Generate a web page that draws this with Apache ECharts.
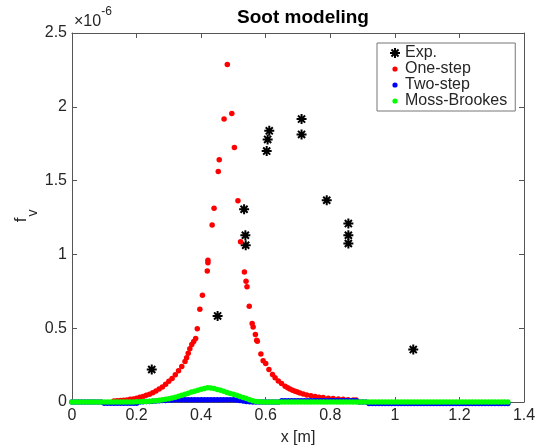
<!DOCTYPE html>
<html>
<head>
<meta charset="utf-8">
<script src="https://cdn.jsdelivr.net/npm/echarts@6/dist/echarts.min.js"></script>
<style>html,body{margin:0;padding:0;background:#fff}#c{width:544px;height:446px}</style>
</head>
<body>
<div id="c"></div>
<script>
// values of f_v are in units of 1e-6
var xTickLabels = ['0','0.2','0.4','0.6','0.8','1','1.2','1.4'];
var yTickLabels = ['0','0.5','1','1.5','2','2.5'];
var seriesNames = ['Exp.','One-step','Two-step','Moss-Brookes'];

var expData = [
  [0.247,0.220],[0.451,0.583],[0.533,1.306],[0.537,1.130],[0.538,1.062],
  [0.603,1.700],[0.606,1.779],[0.611,1.837],[0.711,1.917],[0.711,1.813],
  [0.789,1.367],[0.856,1.209],[0.856,1.130],[0.856,1.074],[1.057,0.355]
];

var oneStep = [
  [0.13,0.006],[0.14,0.008],[0.15,0.010],[0.16,0.012],[0.17,0.014],[0.18,0.018],[0.19,0.021],
  [0.20,0.026],[0.21,0.032],[0.22,0.038],[0.23,0.045],[0.24,0.053],[0.25,0.062],[0.26,0.074],
  [0.27,0.088],[0.28,0.102],[0.29,0.120],[0.30,0.140],[0.31,0.160],[0.32,0.185],[0.33,0.212],
  [0.34,0.240],[0.35,0.275],[0.355,0.300],[0.36,0.330],[0.365,0.360],[0.371,0.390],[0.377,0.410],
  [0.383,0.430],[0.388,0.497],[0.396,0.628],[0.404,0.723],[0.419,0.888],[0.421,0.943],[0.421,0.961],
  [0.434,1.200],[0.440,1.313],[0.453,1.562],[0.456,1.641],[0.471,1.917],[0.481,2.287],[0.495,1.955],
  [0.503,1.725],[0.514,1.363],[0.522,1.085],[0.534,0.881],[0.539,0.818],[0.542,0.780],[0.549,0.649],
  [0.558,0.531],[0.561,0.508],[0.568,0.457],[0.572,0.418],[0.574,0.411],[0.585,0.325],[0.592,0.280],
  [0.600,0.260],[0.610,0.220],[0.621,0.186],[0.629,0.165],[0.639,0.142],[0.649,0.125],[0.660,0.106],
  [0.668,0.097],[0.675,0.088],[0.683,0.080],[0.691,0.073],[0.698,0.067],[0.706,0.061],[0.716,0.054],
  [0.727,0.047],[0.740,0.042],[0.753,0.037],[0.765,0.033],[0.778,0.030],[0.794,0.026],[0.809,0.023],
  [0.825,0.020],[0.840,0.018],[0.855,0.016],[0.871,0.014],[0.880,0.013]
];

var xGrid = [
  0,0.01,0.02,0.03,0.04,0.05,0.06,0.07,0.08,0.09,
  0.10,0.11,0.12,0.13,0.14,0.15,0.16,0.17,0.18,0.19,
  0.20,0.21,0.22,0.23,0.24,0.25,0.26,0.27,0.28,0.29,
  0.30,0.31,0.32,0.33,0.34,0.35,0.36,0.37,0.38,0.39,
  0.40,0.41,0.42,0.43,0.44,0.45,0.46,0.47,0.48,0.49,
  0.50,0.51,0.52,0.53,0.54,0.55,0.56,0.57,0.58,0.59,
  0.60,0.61,0.62,0.63,0.64,0.65,0.66,0.67,0.68,0.69,
  0.70,0.71,0.72,0.73,0.74,0.75,0.76,0.77,0.78,0.79,
  0.80,0.81,0.82,0.83,0.84,0.85,0.86,0.87,0.88,0.89,
  0.90,0.91,0.92,0.93,0.94,0.95,0.96,0.97,0.98,0.99,
  1.00,1.01,1.02,1.03,1.04,1.05,1.06,1.07,1.08,1.09,
  1.10,1.11,1.12,1.13,1.14,1.15,1.16,1.17,1.18,1.19,
  1.20,1.21,1.22,1.23,1.24,1.25,1.26,1.27,1.28,1.29,
  1.30,1.31,1.32,1.33,1.34,1.35
];

var twoStep = [
  0,0,0,0,0,0,0,0,0,0,
  -0.008,-0.008,-0.008,-0.008,-0.008,-0.008,-0.008,-0.008,-0.008,-0.008,
  -0.008,0,0.002,0.003,0.004,0.005,0.007,0.008,0.010,0.011,
  0.013,0.014,0.015,0.016,0.016,0.016,0.016,0.016,0.016,0.016,
  0.016,0.016,0.016,0.016,0.016,0.016,0.016,0.016,0.016,0.016,
  0.016,0.014,0.010,0.006,0.003,0.001,0,0,0,0,
  0,0,0,0,0,0.008,0.008,0.008,0.008,0.008,
  0.008,0.008,0.008,0.008,0.008,0.008,0.008,0.008,0.008,0.008,
  0.008,0.008,0.008,0.008,0.008,0.008,0.008,0.008,0.008,0,
  0,0,-0.01,-0.01,-0.01,-0.01,-0.01,-0.01,-0.01,-0.01,
  -0.01,-0.01,-0.01,-0.01,-0.01,-0.01,-0.01,-0.01,-0.01,-0.01,
  -0.01,-0.01,-0.01,-0.01,-0.01,-0.01,-0.01,-0.01,-0.01,-0.01,
  -0.01,-0.01,-0.01,-0.01,-0.01,-0.01,-0.01,-0.01,-0.01,-0.01,
  -0.01,-0.01,-0.01,-0.01,-0.01,-0.01
];

var mossBrookes = [
  0,0,0,0,0,0,0,0,0,0,
  0,0,0,0,0,0,0,0,0,0,
  0.001,0.002,0.003,0.004,0.005,0.007,0.009,0.012,0.015,0.018,
  0.022,0.027,0.032,0.039,0.046,0.053,0.060,0.067,0.073,0.080,
  0.086,0.092,0.096,0.095,0.091,0.085,0.079,0.072,0.064,0.058,
  0.053,0.046,0.038,0.030,0.024,0.016,0.008,0.003,0.001,0,
  0,0,0,0,0,0,0,0,0,0,
  0,0,0,0,0,0,0,0,0,0,
  0,0,0,0,0,0,0,0,0,0,
  0,0,0,0,0,0,0,0,0,0,
  0,0,0,0,0,0,0,0,0,0,
  0,0,0,0,0,0,0,0,0,0,
  0,0,0,0,0,0,0,0,0,0,
  0,0,0,0,0,0
];

function pairs(xs, ys) { var o = []; for (var i = 0; i < xs.length && i < ys.length; i++) o.push([xs[i], ys[i]]); return o; }

var FONT = 'Liberation Sans, Arial, Helvetica, sans-serif';
var AX = '#555';
var TXT = '#262626';
var star = 'path://M-5,-1L5,-1L5,1L-5,1ZM1,-5L1,5L-1,5L-1,-5ZM-2.83,-4.24L4.24,2.83L2.83,4.24L-4.24,-2.83ZM4.24,-2.83L-2.83,4.24L-4.24,2.83L2.83,-4.24Z';
var dotIcon = 'path://M0,0L0,0ZM10,10L10,10ZM7.6,5A2.6,2.6,0,1,1,2.4,5A2.6,2.6,0,1,1,7.6,5Z';

var chart = echarts.init(document.getElementById('c'), null, {renderer: 'canvas'});
var option = {
  backgroundColor: '#fff',
  animation: false,
  title: {
    text: 'Soot modeling', left: 298, top: 3, textAlign: 'center',
    textStyle: {fontFamily: FONT, fontSize: 19, fontWeight: 'bold', color: '#000'}
  },
  legend: {
    left: 377, top: 43, orient: 'vertical',
    padding: [2, 8, 2, 13], itemGap: 0, itemWidth: 10, itemHeight: 10,
    borderColor: '#777', borderWidth: 1, backgroundColor: '#fff',
    textStyle: {fontFamily: FONT, fontSize: 16, color: TXT, lineHeight: 15},
    data: [
      {name: seriesNames[0], icon: star},
      {name: seriesNames[1], icon: dotIcon},
      {name: seriesNames[2], icon: dotIcon},
      {name: seriesNames[3], icon: dotIcon}
    ]
  },
  graphic: [{
    type: 'text', left: 74, top: 6,
    style: {
      text: '{a|×10}{b|-6}',
      rich: {
        a: {fontFamily: FONT, fontSize: 16, lineHeight: 24, verticalAlign: 'bottom', fill: TXT},
        b: {fontFamily: FONT, fontSize: 12, lineHeight: 14, verticalAlign: 'top', fill: TXT}
      }
    }
  }, {
    type: 'text', x: 21, y: 220, rotation: Math.PI / 2,
    style: {text: 'f', fontFamily: FONT, fontSize: 17, fill: TXT, align: 'center', verticalAlign: 'middle'}
  }, {
    type: 'text', x: 33, y: 213, rotation: Math.PI / 2,
    style: {text: 'v', fontFamily: FONT, fontSize: 14, fill: TXT, align: 'center', verticalAlign: 'middle'}
  }],
  grid: {left: 72, right: 20, top: 33, bottom: 44, outerBoundsMode: 'none', containLabel: false},
  xAxis: [{
    type: 'value', min: 0, max: 1.4, interval: 0.2,
    name: 'x [m]', nameLocation: 'middle', nameGap: 28,
    nameTextStyle: {fontFamily: FONT, fontSize: 16, color: TXT},
    axisLine: {onZero: false, lineStyle: {color: AX, width: 1}},
    axisTick: {inside: true, length: 5, lineStyle: {color: AX}},
    axisLabel: {fontFamily: FONT, fontSize: 16, color: TXT, margin: 6,
      formatter: function (v, i) { return xTickLabels[i]; }},
    splitLine: {show: false}
  }, {
    type: 'value', min: 0, max: 1.4, interval: 0.2, position: 'top',
    axisLine: {onZero: false, lineStyle: {color: AX, width: 1}},
    axisTick: {inside: true, length: 5, lineStyle: {color: AX}},
    axisLabel: {show: false}, splitLine: {show: false}
  }],
  yAxis: [{
    type: 'value', min: 0, max: 2.5, interval: 0.5,
    axisLine: {onZero: false, lineStyle: {color: AX, width: 1}},
    axisTick: {inside: true, length: 5, lineStyle: {color: AX}},
    axisLabel: {fontFamily: FONT, fontSize: 16, color: TXT, margin: 5,
      formatter: function (v, i) { return yTickLabels[i]; }},
    splitLine: {show: false}
  }, {
    type: 'value', min: 0, max: 2.5, interval: 0.5, position: 'right',
    axisLine: {onZero: false, lineStyle: {color: AX, width: 1}},
    axisTick: {inside: true, length: 5, lineStyle: {color: AX}},
    axisLabel: {show: false}, splitLine: {show: false}
  }],
  series: [
    {name: seriesNames[0], type: 'scatter', data: expData, symbol: star, symbolSize: 10,
      itemStyle: {color: '#000', opacity: 1}, z: 2},
    {name: seriesNames[1], type: 'scatter', data: oneStep, symbol: 'circle', symbolSize: 5.5,
      itemStyle: {color: '#ff0000', opacity: 1}, z: 3, clip: false},
    {name: seriesNames[2], type: 'scatter', data: pairs(xGrid, twoStep), symbol: 'circle', symbolSize: 5.5,
      itemStyle: {color: '#0000ff', opacity: 1}, z: 4, clip: false},
    {name: seriesNames[3], type: 'scatter', data: pairs(xGrid, mossBrookes), symbol: 'circle', symbolSize: 5.5,
      itemStyle: {color: '#00ff00', opacity: 1}, z: 5, clip: false}
  ]
};
chart.setOption(option);
</script>
</body>
</html>
